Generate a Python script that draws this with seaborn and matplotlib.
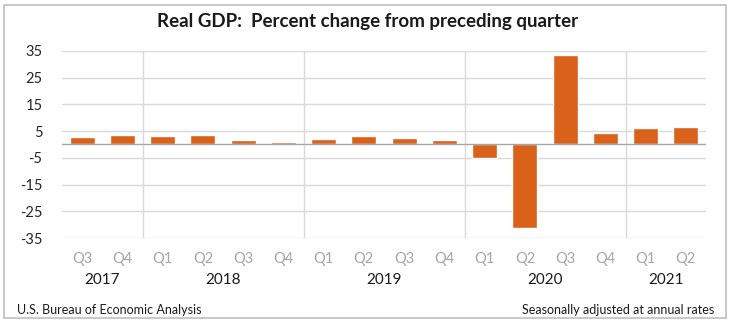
import matplotlib
matplotlib.use("Agg")
import matplotlib.pyplot as plt
import matplotlib.transforms as mtransforms
from matplotlib.patches import Rectangle
import seaborn as sns
import pandas as pd

# ---- data ----
quarters = ["Q3", "Q4", "Q1", "Q2", "Q3", "Q4", "Q1", "Q2",
            "Q3", "Q4", "Q1", "Q2", "Q3", "Q4", "Q1", "Q2"]
years_of_bar = [2017, 2017, 2018, 2018, 2018, 2018, 2019, 2019,
                2019, 2019, 2020, 2020, 2020, 2020, 2021, 2021]
gdp_change = [2.7, 3.5, 3.1, 3.5, 1.7, 1.0, 2.0, 3.1,
              2.6, 1.7, -5.1, -31.2, 33.4, 4.3, 6.3, 6.5]
year_labels = ["2017", "2018", "2019", "2020", "2021"]
y_ticks = [35, 25, 15, 5, -5, -15, -25, -35]

title = "Real GDP:  Percent change from preceding quarter"
source = "U.S. Bureau of Economic Analysis"
note = "Seasonally adjusted at annual rates"

df = pd.DataFrame({
    "period": [f"{y} {q}" for y, q in zip(years_of_bar, quarters)],
    "year": years_of_bar,
    "value": gdp_change,
})

sns.set_theme(style="white")
plt.rcParams["font.family"] = ["Lato", "DejaVu Sans"]

W, H = 731, 322
fig = plt.figure(figsize=(W / 100, H / 100), dpi=100)
ax = fig.add_axes([62 / W, (H - 238) / H, (706 - 62) / W, (238 - 51) / H])

sns.barplot(data=df, x="period", y="value", color="#DA6119",
            saturation=1, width=0.62, ax=ax, zorder=3)

ax.set_ylim(-35, 35)
ax.set_xlim(-0.5, len(df) - 0.5)
ax.set_yticks(y_ticks)
ax.set_yticklabels([str(v) for v in y_ticks], fontsize=10.5, color="#262626")
ax.yaxis.grid(True, color="#D9D9D9", linewidth=1.0, zorder=0)
ax.set_axisbelow(True)
ax.axhline(0, color="#A6A6A6", linewidth=1.0, zorder=4)
ax.tick_params(axis="y", length=0, pad=14)
ax.tick_params(axis="x", length=0, pad=10)
ax.set_xticks(range(len(df)))
ax.set_xticklabels(quarters, fontsize=10.5, color="#A6A6A6")
ax.set_xlabel("")
ax.set_ylabel("")
for s in ax.spines.values():
    s.set_visible(False)

# year separators and year labels
trans = mtransforms.blended_transform_factory(ax.transData, ax.transAxes)
yrs = df["year"].tolist()
bounds = []
start = 0
for i in range(1, len(yrs) + 1):
    if i == len(yrs) or yrs[i] != yrs[start]:
        bounds.append((start, i - 1))
        start = i
for k, (a, b) in enumerate(bounds):
    if a > 0:
        ax.axvline(a - 0.5, color="#D9D9D9", linewidth=1.0, zorder=0)
    ax.text((a + b) / 2, -0.225, year_labels[k], transform=trans,
            ha="center", va="center", fontsize=11, color="#1a1a1a")

fig.text(368 / W, 1 - 22 / H, title, ha="center", va="center",
         fontsize=13.5, fontweight="bold", color="#1a1a1a")
fig.text(17 / W, 1 - 310 / H, source, ha="left", va="center",
         fontsize=9, color="#1a1a1a")
fig.text(714 / W, 1 - 310 / H, note, ha="right", va="center",
         fontsize=9, color="#1a1a1a")

# outer frame
fig.patches.append(Rectangle((4 / W, 4 / H), 722 / W, 313 / H,
                             transform=fig.transFigure, fill=False,
                             edgecolor="#BFBFBF", linewidth=1.2))

fig.savefig("out.png", dpi=100)
